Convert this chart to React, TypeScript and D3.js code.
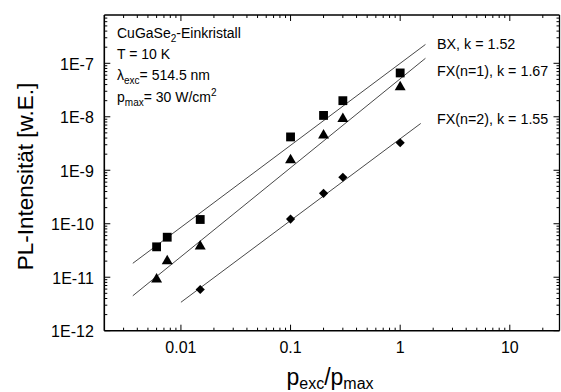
import React, { useEffect, useRef } from "react";
import * as d3 from "d3";

// measured values (p_exc/p_max vs PL intensity)
const bxX = [0.006, 0.0075, 0.015, 0.1, 0.2, 0.3, 1];
const bxY = [3.7e-11, 5.6e-11, 1.2e-10, 4.2e-9, 1.06e-8, 2.0e-8, 6.6e-8];
const fx1X = [0.006, 0.0075, 0.015, 0.1, 0.2, 0.3, 1];
const fx1Y = [9.1e-12, 2.0e-11, 3.8e-11, 1.55e-9, 4.5e-9, 9.2e-9, 3.6e-8];
const fx2X = [0.015, 0.1, 0.2, 0.3, 1];
const fx2Y = [5.9e-12, 1.22e-10, 3.7e-10, 7.4e-10, 3.27e-9];

// fit lines, start and end points
const fitX = [
  [0.00364, 1.7],
  [0.00364, 1.7],
  [0.01, 1.54],
];
const fitY = [
  [1.82e-11, 2.25e-7],
  [4.5e-12, 1.24e-7],
  [3.4e-12, 7.5e-9],
];
const fitLabels = ["BX, k = 1.52", "FX(n=1), k = 1.67", "FX(n=2), k = 1.55"];

const xMajor = [0.01, 0.1, 1, 10];
const xMajorLabels = ["0.01", "0.1", "1", "10"];
const yMajor = [1e-12, 1e-11, 1e-10, 1e-9, 1e-8, 1e-7];
const yMajorLabels = ["1E-12", "1E-11", "1E-10", "1E-9", "1E-8", "1E-7"];

const W = 561;
const H = 392;
const FONT = "Arial, 'Liberation Sans', sans-serif";

export default function App() {
  const ref = useRef<SVGSVGElement>(null);

  useEffect(() => {
    const svg = d3.select(ref.current);
    svg.selectAll("*").remove();

    const left = 104.3;
    const right = 559.5;
    const top = 15;
    const bottom = 330.7;

    const x = d3.scaleLog().domain([0.002, 28.4]).range([left, right]);
    const y = d3.scaleLog().domain([1e-12, 8e-7]).range([bottom, top]);

    // minor ticks
    const minor = (lo: number, hi: number, dom: number[]) => {
      const out: number[] = [];
      for (let e = lo; e <= hi; e++) {
        for (let k = 2; k <= 9; k++) {
          const v = k * Math.pow(10, e);
          if (v > dom[0] * 1.0001 && v < dom[1] * 0.9999) out.push(v);
        }
      }
      return out;
    };
    const xMinor = minor(-3, 1, x.domain());
    const yMinor = minor(-12, -7, y.domain());

    const ax = svg.append("g").attr("stroke", "#000");
    const tick = (x1: number, y1: number, x2: number, y2: number, w = 1) =>
      ax
        .append("line")
        .attr("x1", x1)
        .attr("y1", y1)
        .attr("x2", x2)
        .attr("y2", y2)
        .attr("stroke-width", w);

    xMajor.forEach((v) => {
      tick(x(v), bottom, x(v), bottom - 6);
      tick(x(v), top, x(v), top + 6);
    });
    xMinor.forEach((v) => {
      tick(x(v), bottom, x(v), bottom - 3);
      tick(x(v), top, x(v), top + 3);
    });
    yMajor.forEach((v) => {
      tick(left, y(v), left + 6, y(v));
      tick(right, y(v), right - 6, y(v));
    });
    yMinor.forEach((v) => {
      tick(left, y(v), left + 3, y(v));
      tick(right, y(v), right - 3, y(v));
    });

    // frame
    tick(left, bottom, right, bottom, 1.6);
    tick(left, top, right, top, 1.3);
    tick(left, top, left, bottom, 1.6);
    tick(right, top, right, bottom, 1.3);

    // tick labels
    svg
      .append("g")
      .selectAll("text")
      .data(xMajor)
      .join("text")
      .attr("x", (d) => x(d))
      .attr("y", bottom + 22)
      .attr("text-anchor", "middle")
      .style("font-family", FONT)
      .style("font-size", "16px")
      .text((d, i) => xMajorLabels[i]);

    svg
      .append("g")
      .selectAll("text")
      .data(yMajor)
      .join("text")
      .attr("x", left - 10.5)
      .attr("y", (d) => y(d) + 6.5)
      .attr("text-anchor", "end")
      .style("font-family", FONT)
      .style("font-size", "16px")
      .text((d, i) => yMajorLabels[i]);

    // fit lines
    fitX.forEach((xs, i) => {
      svg
        .append("line")
        .attr("x1", x(xs[0]))
        .attr("y1", y(fitY[i][0]))
        .attr("x2", x(xs[1]))
        .attr("y2", y(fitY[i][1]))
        .attr("stroke", "#333")
        .attr("stroke-width", 0.9);
    });

    // markers
    const series = [
      { xs: bxX, ys: bxY, sym: d3.symbolSquare, size: 78, rot: 0 },
      { xs: fx1X, ys: fx1Y, sym: d3.symbolTriangle, size: 52, rot: 0 },
      { xs: fx2X, ys: fx2Y, sym: d3.symbolSquare, size: 42, rot: 45 },
    ];
    series.forEach((s) => {
      svg
        .append("g")
        .selectAll("path")
        .data(s.xs)
        .join("path")
        .attr("d", d3.symbol().type(s.sym).size(s.size)() as string)
        .attr(
          "transform",
          (d, i) => `translate(${x(d)},${y(s.ys[i])}) rotate(${s.rot})`
        )
        .attr("fill", "#000");
    });

    // fit labels
    const labelY = [49.3, 75.5, 124];
    svg
      .append("g")
      .selectAll("text")
      .data(fitLabels)
      .join("text")
      .attr("x", 437)
      .attr("y", (d, i) => labelY[i])
      .style("font-family", FONT)
      .style("font-size", "14.3px")
      .text((d) => d);

    // sample info
    const info = svg
      .append("g")
      .style("font-family", FONT)
      .style("font-size", "14px");
    const t1 = info.append("text").attr("x", 117).attr("y", 38);
    t1.append("tspan").text("CuGaSe");
    t1.append("tspan").attr("dy", 4).style("font-size", "10px").text("2");
    t1.append("tspan").attr("dy", -4).text("-Einkristall");
    info.append("text").attr("x", 117).attr("y", 59).text("T = 10 K");
    const t3 = info.append("text").attr("x", 117).attr("y", 80);
    t3.append("tspan").text("\u03bb");
    t3.append("tspan").attr("dy", 4).style("font-size", "10px").text("exc");
    t3.append("tspan").attr("dy", -4).text("= 514.5 nm");
    const t4 = info.append("text").attr("x", 117).attr("y", 102);
    t4.append("tspan").text("p");
    t4.append("tspan").attr("dy", 4).style("font-size", "10px").text("max");
    t4.append("tspan").attr("dy", -4).text("= 30 W/cm");
    t4.append("tspan").attr("dy", -6).style("font-size", "10px").text("2");

    // axis titles
    svg
      .append("text")
      .attr("transform", `translate(33,${(80 + 273) / 2}) rotate(-90)`)
      .attr("text-anchor", "middle")
      .style("font-family", FONT)
      .style("font-size", "22.5px")
      .text("PL-Intensität [w.E.]");

    const xt = svg
      .append("text")
      .attr("x", 330)
      .attr("y", 385)
      .attr("text-anchor", "middle")
      .style("font-family", FONT)
      .style("font-size", "23px");
    xt.append("tspan").text("p");
    xt.append("tspan").attr("dy", 3.5).style("font-size", "16px").text("exc");
    xt.append("tspan").attr("dy", -3.5).text("/p");
    xt.append("tspan").attr("dy", 3.5).style("font-size", "16px").text("max");
  }, []);

  return (
    <svg
      ref={ref}
      width={W}
      height={H}
      style={{ position: "absolute", left: 0, top: 0, background: "#fff" }}
    ></svg>
  );
}
